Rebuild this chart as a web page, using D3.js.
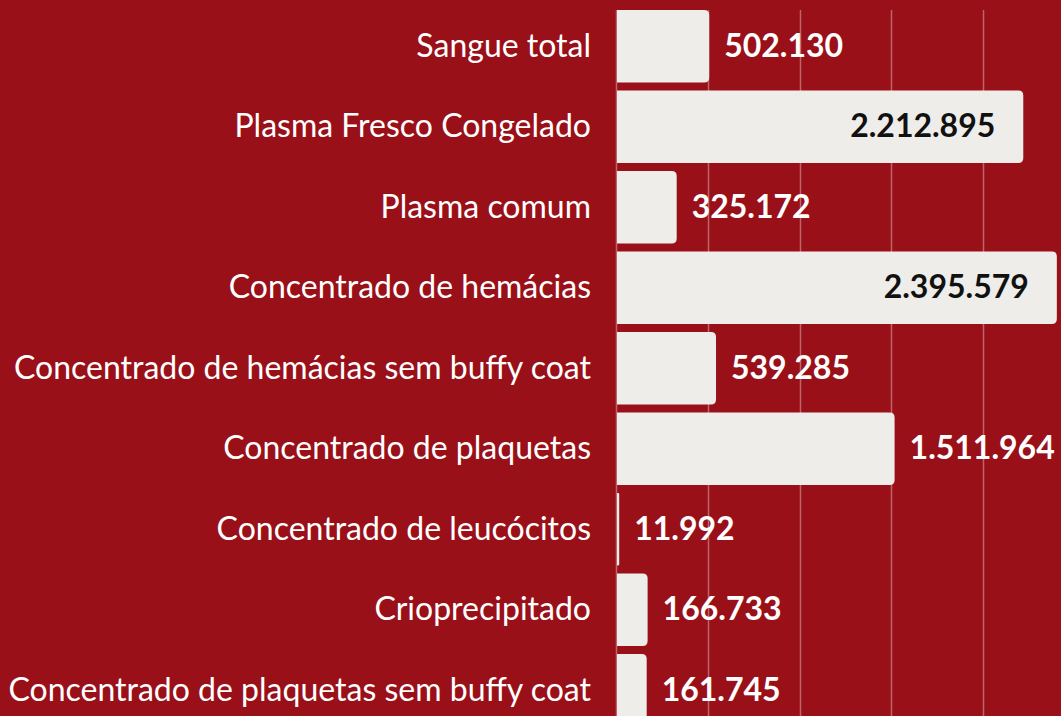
<!DOCTYPE html>
<html>
<head>
<meta charset="utf-8">
<script src="https://cdn.jsdelivr.net/npm/d3@7"></script>
<style>
  html, body { margin: 0; padding: 0; background: #9a1019; }
  svg { display: block; }
</style>
</head>
<body>
<svg id="chart"></svg>
<script>
let categories = [
    "Sangue total",
    "Plasma Fresco Congelado",
    "Plasma comum",
    "Concentrado de hemácias",
    "Concentrado de hemácias sem buffy coat",
    "Concentrado de plaquetas",
    "Concentrado de leucócitos",
    "Crioprecipitado",
    "Concentrado de plaquetas sem buffy coat"
];
let values = [502130, 2212895, 325172, 2395579, 539285, 1511964, 11992, 166733, 161745];
let gridTicks = [0, 500000, 1000000, 1500000, 2000000, 2500000];

function drawChart() {
    let w = 1061, h = 716;

    let svg = d3.select("#chart")
        .attr("width", w)
        .attr("height", h);

    svg.append("rect")
        .attr("width", w)
        .attr("height", h)
        .attr("fill", "#9a1019");

    let x = d3.scaleLinear()
        .domain([0, 2500000])
        .range([617, 1076]);

    let y = d3.scaleBand()
        .domain(categories)
        .range([2, 734.5])
        .paddingInner(0.1)
        .paddingOuter(0.1);

    // vertical grid lines
    svg.selectAll("line.grid")
        .data(gridTicks)
        .enter()
        .append("line")
        .attr("class", "grid")
        .attr("x1", d => Math.round(x(d)) - 0.5)
        .attr("x2", d => Math.round(x(d)) - 0.5)
        .attr("y1", y(categories[0]))
        .attr("y2", h)
        .attr("stroke", "rgba(255,255,255,0.35)")
        .attr("stroke-width", 1.5);

    // bars, rounded on the right only
    let r = 5;
    svg.selectAll("path.bar")
        .data(values)
        .enter()
        .append("path")
        .attr("class", "bar")
        .attr("fill", "#eeede9")
        .attr("d", (d, i) => {
            let x0 = x(0), x1 = x(d);
            let y0 = y(categories[i]), bh = y.bandwidth();
            let rr = Math.min(r, (x1 - x0) / 2);
            return `M${x0},${y0}H${x1 - rr}Q${x1},${y0} ${x1},${y0 + rr}` +
                `V${y0 + bh - rr}Q${x1},${y0 + bh} ${x1 - rr},${y0 + bh}H${x0}Z`;
        });

    // category labels
    svg.selectAll("text.cat")
        .data(categories)
        .enter()
        .append("text")
        .attr("class", "cat")
        .attr("x", 591)
        .attr("y", d => y(d) + y.bandwidth() / 2)
        .attr("dy", "0.33em")
        .attr("text-anchor", "end")
        .attr("fill", "#ffffff")
        .style("font-family", "Lato, 'Open Sans', sans-serif")
        .style("font-size", "32px")
        .text(d => d);

    // value labels
    let fmt = v => d3.format(",")(v).replace(/,/g, ".");
    let inside = v => v > 2000000;
    svg.selectAll("text.val")
        .data(values)
        .enter()
        .append("text")
        .attr("class", "val")
        .attr("x", d => inside(d) ? x(d) - 28 : x(d) + 15)
        .attr("y", (d, i) => y(categories[i]) + y.bandwidth() / 2)
        .attr("dy", "0.33em")
        .attr("text-anchor", d => inside(d) ? "end" : "start")
        .attr("fill", d => inside(d) ? "#111111" : "#ffffff")
        .style("font-family", "Lato, 'Open Sans', sans-serif")
        .style("font-weight", "bold")
        .style("font-size", "32px")
        .text(d => fmt(d));
}

window.onload = function() {
    drawChart();
}
</script>
</body>
</html>
